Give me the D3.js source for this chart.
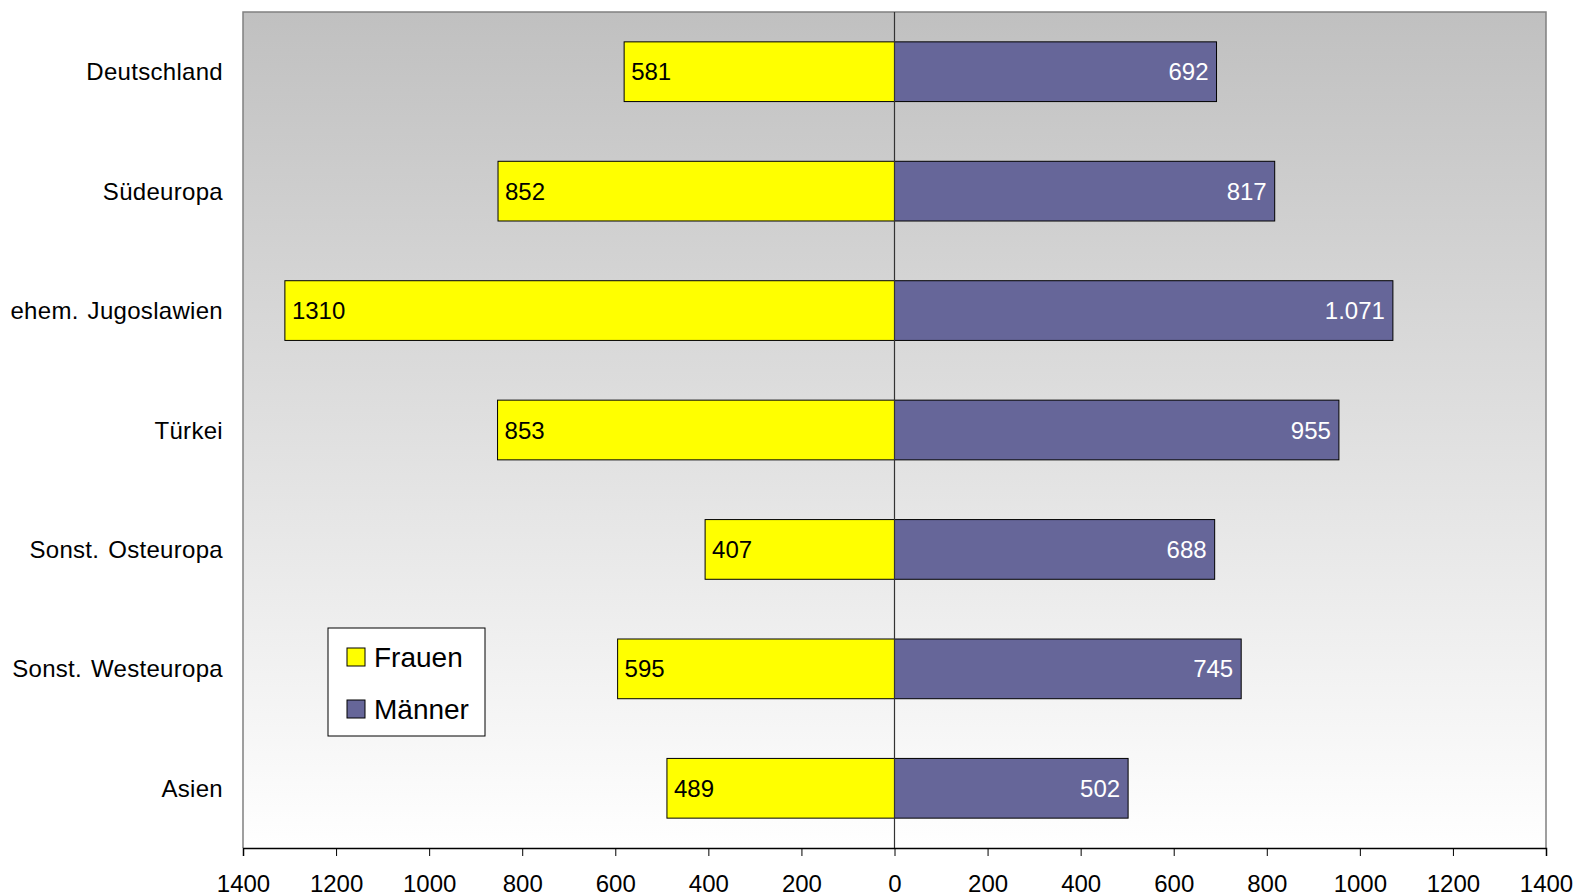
<!DOCTYPE html>
<html>
<head>
<meta charset="utf-8">
<script src="https://cdn.jsdelivr.net/npm/d3@7"></script>
<style>
  html, body { margin: 0; padding: 0; background: #ffffff; }
  svg { display: block; font-family: "Liberation Sans", Arial, sans-serif; }
</style>
</head>
<body>
<svg id="chart" width="1574" height="896"></svg>
<script>
// Herkunftsregionen
const categories = ["Deutschland", "Südeuropa", "ehem. Jugoslawien", "Türkei", "Sonst. Osteuropa", "Sonst. Westeuropa", "Asien"];
// Werte je Geschlecht
const frauen = [581, 852, 1310, 853, 407, 595, 489];
const maenner = [692, 817, 1071, 955, 688, 745, 502];
// Beschriftungen der Männer-Balken (mit Tausenderpunkt)
const maennerLabels = ["692", "817", "1.071", "955", "688", "745", "502"];
// Achsenbeschriftung (Beträge auf beiden Seiten)
const tickValues = [-1400, -1200, -1000, -800, -600, -400, -200, 0, 200, 400, 600, 800, 1000, 1200, 1400];
const seriesNames = ["Frauen", "Männer"];
const seriesColors = ["#ffff00", "#666699"];

const svg = d3.select("#chart");
const plot = { left: 243, right: 1546, top: 12, bottom: 848 };

const x = d3.scaleLinear().domain([-1400, 1400]).range([plot.left, plot.right]);
const y = d3.scaleBand().domain(categories).range([plot.top, plot.bottom])
  .paddingInner(0.5).paddingOuter(0.25);

// Hintergrundverlauf der Zeichenfläche
const defs = svg.append("defs");
const grad = defs.append("linearGradient").attr("id", "bg")
  .attr("x1", 0).attr("y1", 0).attr("x2", 0).attr("y2", 1);
grad.append("stop").attr("offset", "0%").attr("stop-color", "#c0c0c0");
grad.append("stop").attr("offset", "100%").attr("stop-color", "#ffffff");

svg.append("rect")
  .attr("x", plot.left).attr("y", plot.top)
  .attr("width", plot.right - plot.left).attr("height", plot.bottom - plot.top)
  .attr("fill", "url(#bg)");

// Rahmen oben, links, rechts
svg.append("path")
  .attr("d", `M${plot.left},${plot.bottom} V${plot.top} H${plot.right} V${plot.bottom}`)
  .attr("fill", "none").attr("stroke", "#808080").attr("stroke-width", 1.5);

// Balken Frauen (links)
svg.append("g").selectAll("rect").data(frauen).join("rect")
  .attr("x", d => x(-d)).attr("y", (d, i) => y(categories[i]))
  .attr("width", d => x(0) - x(-d)).attr("height", y.bandwidth())
  .attr("fill", seriesColors[0]).attr("stroke", "#000").attr("stroke-width", 1);

// Balken Männer (rechts)
svg.append("g").selectAll("rect").data(maenner).join("rect")
  .attr("x", x(0)).attr("y", (d, i) => y(categories[i]))
  .attr("width", d => x(d) - x(0)).attr("height", y.bandwidth())
  .attr("fill", seriesColors[1]).attr("stroke", "#000").attr("stroke-width", 1);

// Nulllinie
svg.append("line")
  .attr("x1", x(0)).attr("x2", x(0)).attr("y1", plot.top).attr("y2", plot.bottom)
  .attr("stroke", "#333").attr("stroke-width", 1.2);

// Wertbeschriftungen
svg.append("g").selectAll("text").data(frauen).join("text")
  .attr("x", d => x(-d) + 7).attr("y", (d, i) => y(categories[i]) + y.bandwidth() / 2)
  .attr("dy", "0.36em").attr("font-size", 24).attr("fill", "#000")
  .text(d => d);

svg.append("g").selectAll("text").data(maenner).join("text")
  .attr("x", d => x(d) - 8).attr("y", (d, i) => y(categories[i]) + y.bandwidth() / 2)
  .attr("dy", "0.36em").attr("font-size", 24).attr("fill", "#fff")
  .attr("text-anchor", "end")
  .text((d, i) => maennerLabels[i]);

// Kategorienbeschriftung
svg.append("g").selectAll("text").data(categories).join("text")
  .attr("x", 223).attr("y", d => y(d) + y.bandwidth() / 2)
  .attr("dy", "0.36em").attr("font-size", 24).attr("fill", "#000")
  .attr("word-spacing", 2).attr("letter-spacing", 0.3)
  .attr("text-anchor", "end")
  .text(d => d);

// x-Achse
const xAxis = d3.axisBottom(x).tickValues(tickValues)
  .tickFormat(d => Math.abs(d)).tickSize(8).tickPadding(19);
const gx = svg.append("g").attr("transform", `translate(0,${plot.bottom})`).call(xAxis);
gx.select(".domain").attr("stroke", "#000").attr("stroke-width", 1.5);
gx.selectAll(".tick line").attr("stroke", "#000");
gx.selectAll(".tick text").attr("font-size", 24).attr("fill", "#000")
  .attr("font-family", "'Liberation Sans', Arial, sans-serif");

// Legende
const legend = svg.append("g").attr("transform", "translate(328,628)");
legend.append("rect").attr("width", 157).attr("height", 108)
  .attr("fill", "#fff").attr("stroke", "#000").attr("stroke-width", 1);
seriesNames.forEach((name, i) => {
  const row = legend.append("g").attr("transform", `translate(19,${20 + i * 52})`);
  row.append("rect").attr("width", 18).attr("height", 18)
    .attr("fill", seriesColors[i]).attr("stroke", "#000").attr("stroke-width", 1);
  row.append("text").attr("x", 27).attr("y", 9).attr("dy", "0.36em")
    .attr("font-size", 28).attr("fill", "#000").text(name);
});
</script>
</body>
</html>
